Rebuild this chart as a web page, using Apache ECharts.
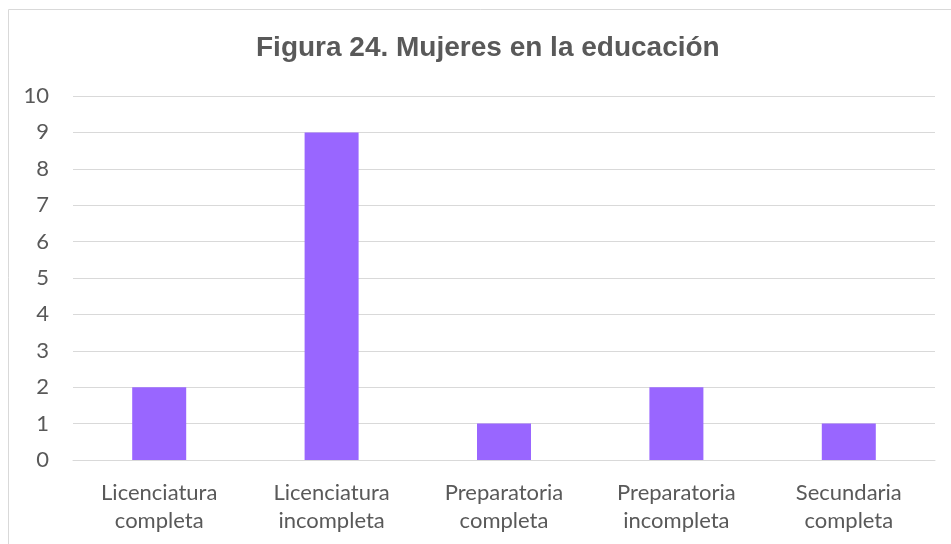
<!DOCTYPE html>
<html>
<head>
<meta charset="utf-8">
<script src="https://cdn.jsdelivr.net/npm/echarts@6/dist/echarts.min.js"></script>
<style>
  html, body { margin: 0; padding: 0; background: #fff; }
  #main { width: 951px; height: 544px; }
</style>
</head>
<body>
<div id="main"></div>
<script>
var categories = ['Licenciatura\ncompleta', 'Licenciatura\nincompleta', 'Preparatoria\ncompleta', 'Preparatoria\nincompleta', 'Secundaria\ncompleta'];
var values = [2, 9, 1, 2, 1];

var myChart = echarts.init(document.getElementById('main'));

var option = {
    animation: false,
    title: {
        text: 'Figura 24. Mujeres en la educación',
        left: 251,
        top: 29,
        textStyle: {
            fontFamily: 'Liberation Sans',
            fontSize: 28,
            fontWeight: 'bold',
            color: '#595959'
        }
    },
    graphic: [{
        type: 'rect',
        shape: {x: 8.5, y: 9.5, width: 1000, height: 1000},
        style: {fill: 'none', stroke: '#d9d9d9', lineWidth: 1}
    }],
    grid: {
        left: 73,
        right: 16,
        top: 96,
        bottom: 84,
        containLabel: false
    },
    xAxis: {
        type: 'category',
        data: categories,
        axisTick: {show: false},
        axisLine: {lineStyle: {color: '#d9d9d9', width: 1}},
        axisLabel: {
            color: '#595959',
            fontFamily: 'Lato',
            fontSize: 22,
            lineHeight: 28,
            margin: 19
        }
    },
    yAxis: {
        type: 'value',
        min: 0,
        max: 10,
        interval: 1,
        axisLine: {show: false},
        axisTick: {show: false},
        splitLine: {lineStyle: {color: '#d9d9d9', width: 1}},
        axisLabel: {
            color: '#595959',
            fontFamily: 'Lato',
            fontSize: 22,
            margin: 24
        }
    },
    series: [{
        type: 'bar',
        data: values,
        barWidth: 54,
        itemStyle: {color: '#9966ff'}
    }]
};

myChart.setOption(option);
</script>
</body>
</html>
